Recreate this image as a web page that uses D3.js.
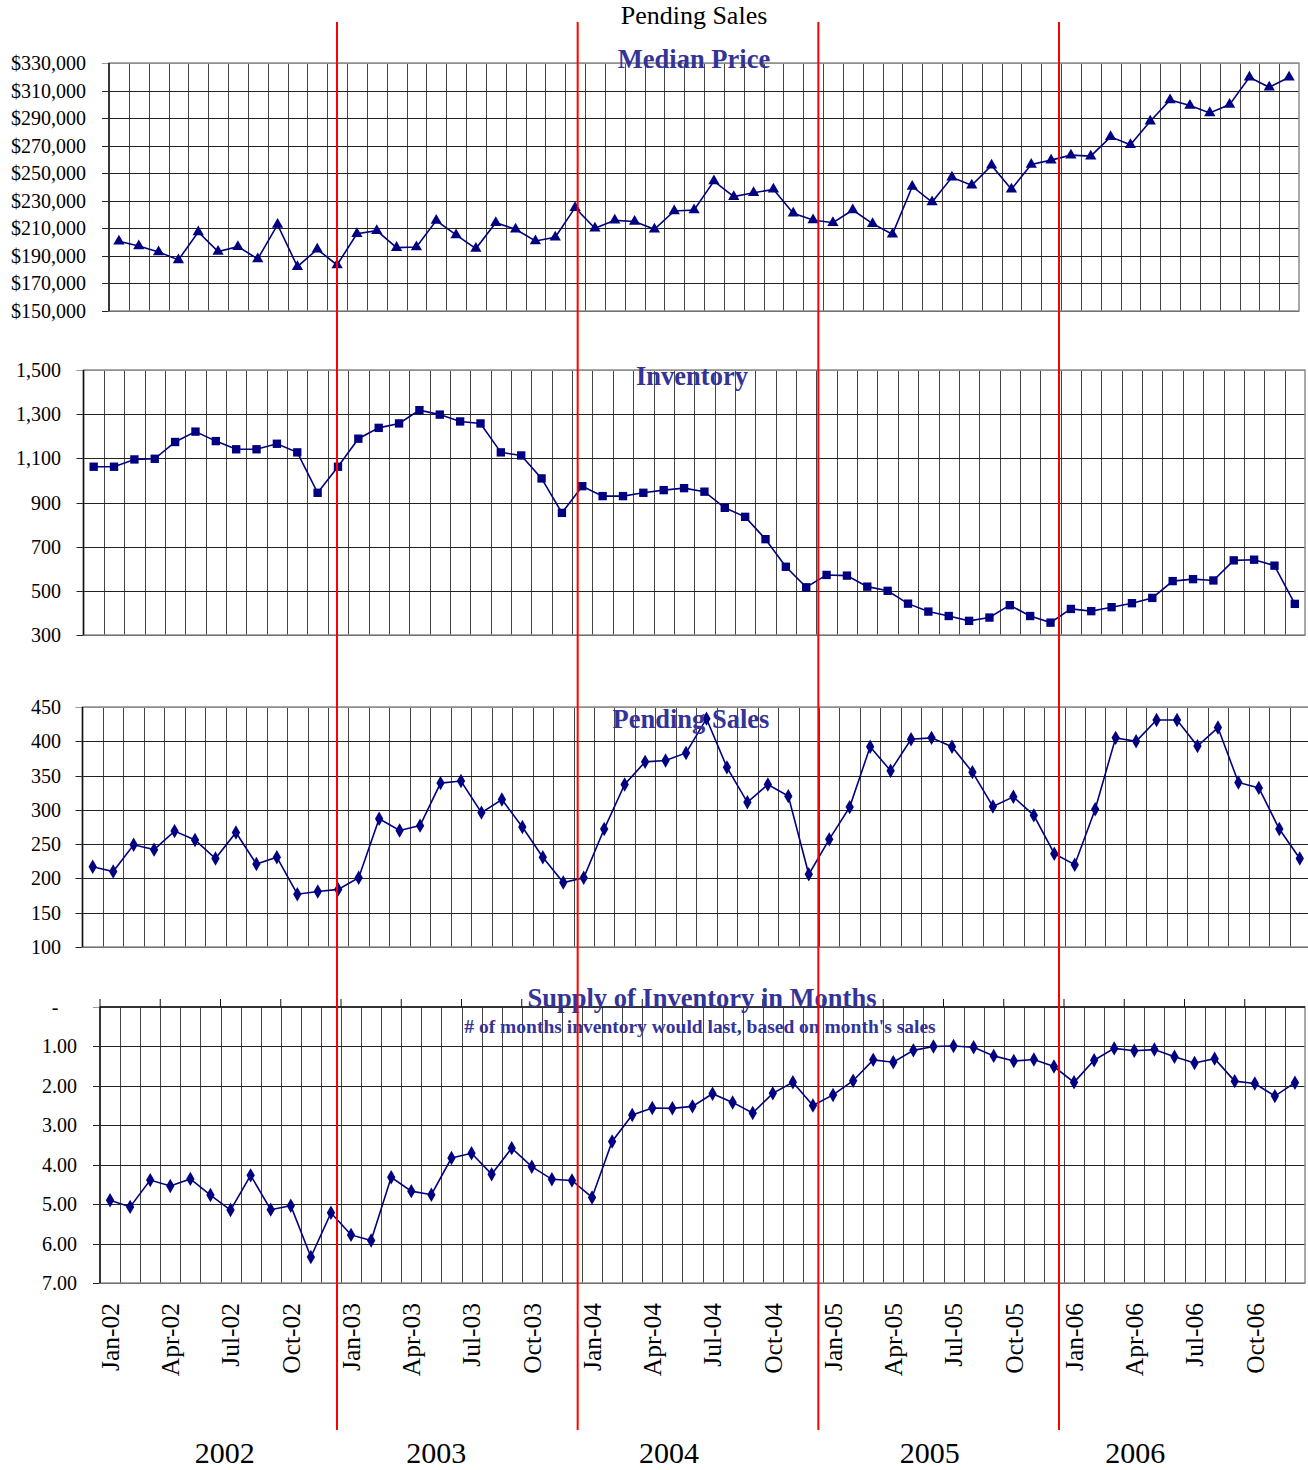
<!DOCTYPE html>
<html>
<head>
<meta charset="utf-8">
<script src="https://cdn.jsdelivr.net/npm/d3@7"></script>
<style>
  body { margin: 0; background: #fff; }
  svg { display: block; font-family: "Liberation Serif", "Times New Roman", serif; }
</style>
</head>
<body>
<div id="chart"></div>
<script>
// month categories Jan-02 .. Dec-06
const monthNames = ["Jan", "Feb", "Mar", "Apr", "May", "Jun", "Jul", "Aug", "Sep", "Oct", "Nov", "Dec"]
const yearCodes = ["02", "03", "04", "05", "06"]
const years = [2002, 2003, 2004, 2005, 2006]
const months = []
yearCodes.forEach(y => monthNames.forEach(m => months.push(m + "-" + y)))

const medianPrice = [
    200600, 197200, 192900, 187100, 207300, 193100, 196700, 187800, 212700, 182200, 194800, 183400,
    206100, 208300, 196000, 196500, 215600, 205200, 195300, 214100, 209300, 200800, 203500, 225000,
    210000, 215800, 215000, 209300, 222600, 223300, 244300, 233000, 235800, 238300, 220900, 216000,
    214100, 223300, 213400, 205700, 240400, 229100, 247000, 241200, 255700, 238300, 256400, 259500,
    263100, 262400, 276400, 270600, 287700, 303200, 299100, 293800, 299800, 319600, 312400, 319600
]
const inventory = [
    1062, 1062, 1095, 1098, 1174, 1221, 1178, 1141, 1141, 1166, 1127, 944,
    1062, 1189, 1238, 1258, 1318, 1298, 1267, 1258, 1127, 1113, 1009, 853,
    974, 929, 929, 944, 956, 965, 949, 876, 835, 734, 609, 516,
    572, 569, 519, 500, 442, 406, 386, 364, 379, 435, 386, 356,
    418, 408, 426, 444, 468, 544, 553, 547, 638, 641, 614, 441
]
const pendingSales = [
    217, 210, 249, 242, 269, 256, 229, 267, 221, 231, 177, 181,
    184, 201, 287, 270, 277, 339, 342, 296, 315, 275, 231, 194,
    201, 272, 337, 370, 372, 383, 433, 362, 311, 337, 320, 206,
    257, 304, 392, 357, 403, 405, 392, 355, 305, 319, 292, 236,
    220, 301, 405, 400, 431, 431, 393, 420, 340, 332, 272, 229
]
const supplyMonths = [
    4.90, 5.07, 4.39, 4.54, 4.36, 4.77, 5.15, 4.27, 5.14, 5.04, 6.34, 5.22,
    5.78, 5.92, 4.32, 4.67, 4.76, 3.83, 3.71, 4.24, 3.58, 4.05, 4.37, 4.40,
    4.83, 3.41, 2.74, 2.56, 2.57, 2.52, 2.20, 2.42, 2.69, 2.19, 1.91, 2.50,
    2.23, 1.87, 1.34, 1.40, 1.10, 1.00, 0.99, 1.02, 1.24, 1.37, 1.33, 1.51,
    1.91, 1.35, 1.05, 1.11, 1.08, 1.26, 1.42, 1.31, 1.88, 1.94, 2.26, 1.92
]

const priceTicks = d3.range(150000, 330001, 20000)
const inventoryTicks = d3.range(300, 1501, 200)
const pendingTicks = d3.range(100, 451, 50)
const supplyTicks = d3.range(0, 8, 1)

const width = 1308
const height = 1470
const navy = "#000080"
const titleColor = "#333399"

const svg = d3.select("#chart")
    .append("svg")
    .attr("width", width)
    .attr("height", height)

svg.append("text")
    .attr("x", 694)
    .attr("y", 24)
    .attr("text-anchor", "middle")
    .style("font-size", "26px")
    .text("Pending Sales")

const panels = [
    { values: medianPrice, ticks: priceTicks, domain: [150000, 330000], fmt: d3.format("$,"),
      x0: 109, x1: 1299, top: 63, bottom: 311, marker: d3.symbolTriangle, size: 55,
      title: "Median Price", titleX: 694, titleY: 68, labelX: 86 },
    { values: inventory, ticks: inventoryTicks, domain: [300, 1500], fmt: d3.format(","),
      x0: 83.5, x1: 1305, top: 370, bottom: 635, marker: d3.symbolSquare, size: 70,
      title: "Inventory", titleX: 692, titleY: 385, labelX: 61 },
    { values: pendingSales, ticks: pendingTicks, domain: [100, 450], fmt: d3.format("d"),
      x0: 82.5, x1: 1310, top: 707, bottom: 947, marker: d3.symbolDiamond, size: 60,
      title: "Pending Sales", titleX: 691, titleY: 728, labelX: 61 },
    { values: supplyMonths, ticks: supplyTicks, domain: [0, 7], fmt: d => d === 0 ? "-" : d3.format(".2f")(d),
      x0: 100, x1: 1305, top: 1007, bottom: 1283, marker: d3.symbolDiamond, size: 60,
      title: "Supply of Inventory in Months", titleX: 702, titleY: 1007, labelX: 77, reversed: true,
      subtitle: "# of months inventory would last, based on month's sales" }
]

let lastX = null

panels.forEach(p => {
    const x = d3.scaleBand().domain(months).range([p.x0, p.x1])
    const y = d3.scaleLinear().domain(p.domain)
        .range(p.reversed ? [p.top, p.bottom] : [p.bottom, p.top])
    const g = svg.append("g")

    // vertical grid (one line per month boundary)
    g.append("g")
        .selectAll("line")
        .data(months.slice(1))
        .join("line")
        .attr("x1", d => Math.round(x(d)) + 0.5)
        .attr("x2", d => Math.round(x(d)) + 0.5)
        .attr("y1", p.top)
        .attr("y2", p.bottom)
        .attr("stroke", "#444")
        .attr("stroke-width", 1)

    // horizontal grid
    g.append("g")
        .selectAll("line")
        .data(p.ticks)
        .join("line")
        .attr("x1", p.x0 - 7)
        .attr("x2", p.x1)
        .attr("y1", d => Math.round(y(d)) + 0.5)
        .attr("y2", d => Math.round(y(d)) + 0.5)
        .attr("stroke", (d, i) => (p.reversed ? i === 0 : i === p.ticks.length - 1) ? "#999" : "#222")
        .attr("stroke-width", 1)

    // outer frame
    g.append("rect")
        .attr("x", p.x0)
        .attr("y", p.top)
        .attr("width", p.x1 - p.x0)
        .attr("height", p.bottom - p.top)
        .attr("fill", "none")
        .attr("stroke", "#8c8c8c")
        .attr("stroke-width", 1.5)

    if (p.reversed) {
        g.append("line")
            .attr("x1", p.x0).attr("x2", p.x1)
            .attr("y1", p.top).attr("y2", p.top)
            .attr("stroke", "#111").attr("stroke-width", 1.5)
        // category ticks on top axis every 3 months
        g.append("g")
            .selectAll("line")
            .data(months.filter((d, i) => i % 3 === 0))
            .join("line")
            .attr("x1", d => x(d))
            .attr("x2", d => x(d))
            .attr("y1", p.top - 8)
            .attr("y2", p.top)
            .attr("stroke", "#111")
    }

    // value axis
    g.append("line")
        .attr("x1", p.x0).attr("x2", p.x0)
        .attr("y1", p.top).attr("y2", p.bottom)
        .attr("stroke", "#111").attr("stroke-width", 1.5)

    g.append("g")
        .selectAll("text")
        .data(p.ticks)
        .join("text")
        .attr("x", d => (p.reversed && d === 0) ? 55 : p.labelX)
        .attr("y", d => y(d))
        .attr("dy", "0.35em")
        .attr("text-anchor", d => (p.reversed && d === 0) ? "middle" : "end")
        .style("font-size", "20px")
        .text(p.fmt)

    // series line + markers
    const line = d3.line()
        .x((d, i) => x(months[i]) + x.bandwidth() / 2)
        .y(d => y(d))

    g.append("path")
        .datum(p.values)
        .attr("d", line)
        .attr("fill", "none")
        .attr("stroke", navy)
        .attr("stroke-width", 1.6)

    g.append("g")
        .selectAll("path")
        .data(p.values)
        .join("path")
        .attr("transform", (d, i) => `translate(${x(months[i]) + x.bandwidth() / 2},${y(d)})`)
        .attr("d", d3.symbol().type(p.marker).size(p.size))
        .attr("fill", navy)

    g.append("text")
        .attr("x", p.titleX)
        .attr("y", p.titleY)
        .attr("text-anchor", "middle")
        .attr("fill", titleColor)
        .style("font-size", "26.5px")
        .style("font-weight", "bold")
        .text(p.title)

    if (p.subtitle) {
        g.append("text")
            .attr("x", 700)
            .attr("y", 1033)
            .attr("text-anchor", "middle")
            .attr("fill", titleColor)
            .style("font-size", "19.5px")
            .style("font-weight", "bold")
            .text(p.subtitle)
    }

    lastX = x
})

// rotated month labels under the last panel
svg.append("g")
    .selectAll("text")
    .data(months.filter((d, i) => i % 3 === 0))
    .join("text")
    .attr("transform", d => `translate(${lastX(d) + lastX.bandwidth() / 2},1303) rotate(-90)`)
    .attr("dy", "0.35em")
    .attr("text-anchor", "end")
    .style("font-size", "25.5px")
    .text(d => d)

// year separators (red) and year labels
const sepX = d3.scaleLinear().domain([2003, 2006]).range([337, 1059])
const yearNudge = [8, -21, -29, -9, -44]

svg.append("g")
    .selectAll("line")
    .data(years.slice(1))
    .join("line")
    .attr("x1", d => sepX(d))
    .attr("x2", d => sepX(d))
    .attr("y1", 22)
    .attr("y2", 1430)
    .attr("stroke", "#ff0000")
    .attr("stroke-width", 2)

svg.append("g")
    .selectAll("text")
    .data(years)
    .join("text")
    .attr("x", (d, i) => sepX(d + 0.5) + yearNudge[i])
    .attr("y", 1463)
    .attr("text-anchor", "middle")
    .style("font-size", "30px")
    .text(d => d)
</script>
</body>
</html>
